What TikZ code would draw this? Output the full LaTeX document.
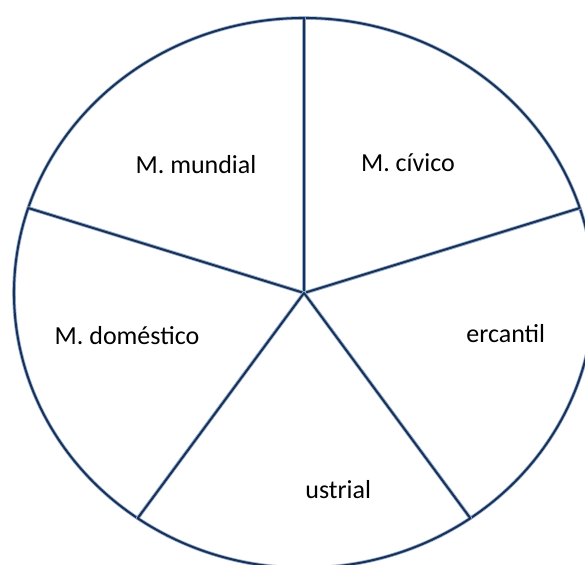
\documentclass[tikz,border=0pt]{standalone}
\usepackage{fontspec}
\setmainfont{Carlito}
\usepackage{tikz}
\usetikzlibrary{positioning}
\definecolor{edgeblue}{RGB}{28,48,84}
\definecolor{glowblue}{RGB}{150,180,215}
\tikzset{
  sector/.style={fill=white, draw=glowblue, line width=1.8pt, line join=round,
    postaction={draw=edgeblue, line width=1pt}},
  seclabel/.style={font=\fontsize{13}{15}\selectfont, inner sep=0pt},
}

\begin{document}
\begin{tikzpicture}[x=0.5pt,y=0.5pt]
  \def\rx{290}   % half axes of the pie, px
  \def\ry{275}
  \useasboundingbox (0,0) rectangle (585,564);
  \coordinate (centre) at (304,271);
  \foreach \name/\from/\to in {%
      mercantil/305/378,
      civico/18/90,
      mundial/90/162,
      domestico/162/235,
      industrial/235/305}{
    \path[sector] (centre) -- ++(\from:{\rx} and {\ry})
      arc[start angle=\from, end angle=\to, x radius=\rx, y radius=\ry] -- cycle;
  }
  \node[seclabel] (mundial-lbl) at (196,399) {M. mundial};
  \node[seclabel] (civico-lbl) at (408,401) {M. cívico};
  \node[seclabel] (domestico-lbl) at (127,228) {M. doméstico};
  \node[seclabel, anchor=west] (mercantil-lbl) at (466,230) {ercantil};
  \node[seclabel, anchor=west] (industrial-lbl) at (305,74) {ustrial};
\end{tikzpicture}
\end{document}
